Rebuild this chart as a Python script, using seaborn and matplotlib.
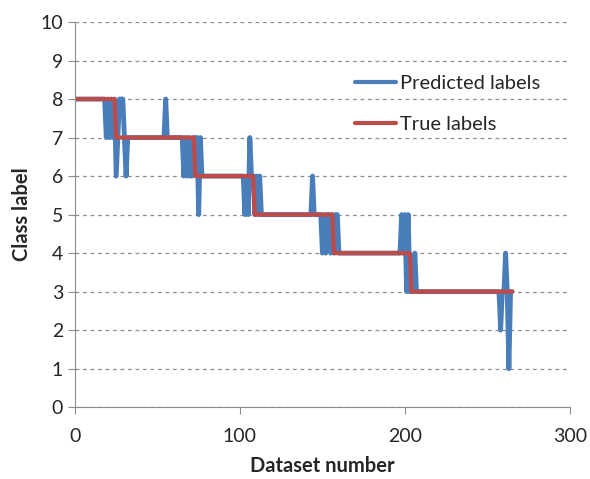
import numpy as np
import pandas as pd
import matplotlib
matplotlib.use("Agg")
import matplotlib.pyplot as plt
import seaborn as sns

# true class runs (label, number of datasets)
true_labels = [8, 7, 6, 5, 4, 3]
run_lengths = [24, 48, 36, 48, 47, 62]

# datasets where the prediction differs from the true label
miss_idx = [19, 20, 21, 22, 23, 25, 27, 28, 29, 30, 31, 55,
            66, 67, 68, 69, 70, 71, 73, 74, 75, 76,
            103, 104, 105, 106, 107, 110, 111, 112, 144,
            150, 151, 152, 153, 155, 158, 159, 160,
            198, 199, 200, 201, 202, 203, 206,
            258, 261, 263]
miss_val = [7, 8, 7, 8, 7, 6, 8, 8, 8, 7, 6, 8,
            6, 7, 6, 7, 6, 6, 7, 7, 5, 7,
            5, 6, 5, 7, 6, 6, 5, 6, 6,
            4, 5, 4, 5, 4, 5, 5, 4,
            5, 4, 5, 3, 5, 3, 4,
            2, 4, 1]

true = np.repeat(true_labels, run_lengths)
n = np.arange(1, len(true) + 1)
pred = true.copy()
for i, v in zip(miss_idx, miss_val):
    pred[i - 1] = v

df = pd.concat([
    pd.DataFrame({"Dataset number": n, "Class label": pred, "series": "Predicted labels"}),
    pd.DataFrame({"Dataset number": n, "Class label": true, "series": "True labels"}),
])

sns.set_style("white")
plt.rcParams["font.family"] = ["Lato", "DejaVu Sans"]

fig = plt.figure(figsize=(5.9, 4.79), dpi=100)
ax = fig.add_axes([0.127, 0.150, 0.839, 0.804])

sns.lineplot(data=df, x="Dataset number", y="Class label", hue="series",
             palette={"Predicted labels": "#4A7EBB", "True labels": "#BE4B48"},
             ax=ax, sort=False, estimator=None)
ax.lines[0].set_linewidth(3.5)
ax.lines[1].set_linewidth(3)

ax.set_xlim(0, 300)
ax.set_ylim(0, 10)
ax.set_xticks([0, 100, 200, 300])
ax.set_yticks(range(0, 11))
ax.yaxis.grid(True, linestyle=(0, (3, 3)), color="#8c8c8c", linewidth=0.9)
ax.set_axisbelow(True)
for s in ["top", "right"]:
    ax.spines[s].set_visible(False)
for s in ["left", "bottom"]:
    ax.spines[s].set_color("#8c8c8c")
ax.tick_params(axis="both", which="major", length=5, color="#8c8c8c",
               labelsize=14, direction="out", bottom=True, left=True)
ax.tick_params(axis="x", pad=10)
ax.set_xlabel("Dataset number", fontsize=14.5, fontweight="bold", labelpad=8)
ax.set_ylabel("Class label", fontsize=14.5, fontweight="bold", labelpad=6)

h, l = ax.get_legend_handles_labels()
leg = ax.legend(h, l, loc="upper left", bbox_to_anchor=(0.53, 0.91), frameon=False,
                fontsize=14.5, handlelength=2.0, handletextpad=0.2, labelspacing=1.2)
for line in leg.get_lines():
    line.set_linewidth(3)

fig.savefig("out.png", dpi=100)
